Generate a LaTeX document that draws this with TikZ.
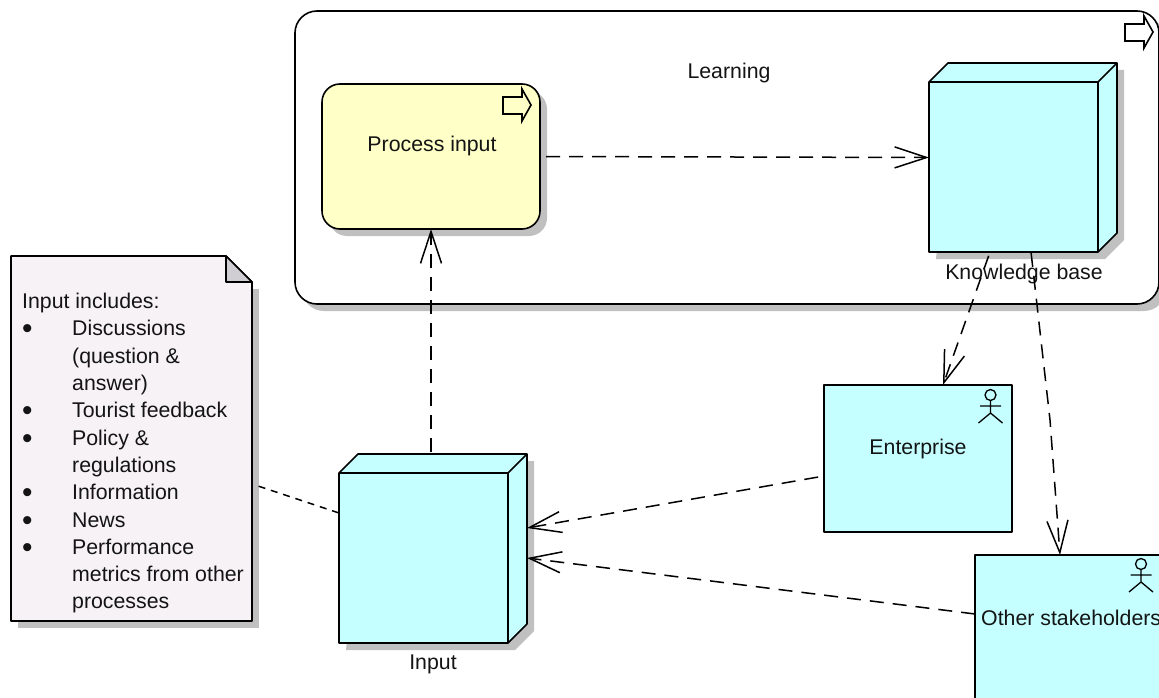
\documentclass[tikz,border=0pt]{standalone}
\usepackage{fontspec}
\setmainfont{Liberation Sans}
\usetikzlibrary{arrows.meta,shadows}
\definecolor{boxcyan}{RGB}{197,255,255}
\definecolor{boxyellow}{RGB}{255,255,200}
\definecolor{notefill}{RGB}{246,242,246}
\definecolor{foldfill}{RGB}{208,206,211}
\definecolor{shadowgray}{RGB}{192,192,192}
\definecolor{inktext}{RGB}{20,20,20}
\newcommand{\bulletmark}{\makebox[50pt][l]{\raisebox{-3pt}{\scalebox{1.4}{\textbullet}}}}
\tikzset{
  x=1pt,y=-1pt,
  outline/.style={draw=black,line width=1.6pt,line join=round},
  box7/.style={outline,inner sep=0pt,outer sep=0pt},
  ghost/.style={inner sep=0pt,outer sep=0pt},
  sh7/.style={drop shadow={shadow xshift=7pt,shadow yshift=-7pt,fill=shadowgray,opacity=1}},
  label7/.style={text=inktext,inner sep=0pt,font=\fontsize{21.3}{25}\selectfont},
  flow/.style={line width=1.5pt,dash pattern=on 14pt off 9pt,-{Straight Barb[length=32pt,width=21pt,line width=1.5pt]}},
  dep/.style={line width=1.5pt,dash pattern=on 7pt off 5.9pt},
  processicon/.pic={
    \draw[line width=1.6pt,line join=miter,fill=none] (0,8)--(19,8)--(19,0)--(28,16)--(19,32)--(19,25)--(0,25)--cycle;
  },
  actoricon/.pic={
    \draw[line width=1.3pt] (0,0) circle[radius=5.5];
    \draw[line width=1.3pt] (0,5.5)--(0,18) (-10.5,11)--(10.5,11) (-12,28)--(0,18)--(12,28);
  }
}
% name, left x, top y of front face
\newcommand{\cuboid}[3]{%
  \fill[shadowgray] (#2+26,#3-12)--(#2+195,#3-12)--(#2+195,#3+158)--(#2+176,#3+177)--(#2+7,#3+177)--cycle;
  \draw[outline,fill=boxcyan] (#2,#3) -- (#2+19,#3-19) -- (#2+188,#3-19) -- (#2+188,#3+151) -- (#2+169,#3+170) -- (#2,#3+170) -- cycle;
  \draw[outline] (#2,#3) -- (#2+169,#3) -- (#2+188,#3-19) (#2+169,#3) -- (#2+169,#3+170);
  \node[ghost,minimum width=188pt,minimum height=189pt,anchor=north west] (#1) at (#2,#3-19) {};
}
\begin{document}
\begin{tikzpicture}
\clip (0,0) rectangle (1159,698);
\fill[white] (0,0) rectangle (1159,698);

% Learning
\node[box7,sh7,fill=white,rounded corners=22pt,minimum width=864pt,minimum height=293pt,anchor=north west] (learn) at (295,11) {};
\pic at (1125,16) {processicon};
\node[label7] (learntxt) at (729,73) {Learning};

% Process input
\node[box7,sh7,fill=boxyellow,rounded corners=18pt,minimum width=218pt,minimum height=145pt,anchor=north west] (proc) at (322,84) {};
\pic at (503,89) {processicon};
\node[label7] (proctxt) at (432,146) {Process input};

% Knowledge base
\cuboid{kb}{929}{82}
\node[label7] (kbtxt) at (1024,274) {Knowledge base};

% Input
\cuboid{inp}{339}{473}
\node[label7] (inptxt) at (433,664) {Input};

% Enterprise
\node[box7,fill=boxcyan,minimum width=188pt,minimum height=147pt,anchor=north west] (ent) at (824,385) {};
\pic at (990.5,395) {actoricon};
\node[label7] (enttxt) at (918,449) {Enterprise};

% Other stakeholders
\node[box7,fill=boxcyan,minimum width=188pt,minimum height=147pt,anchor=north west] (oth) at (975,555) {};
\pic at (1141,564) {actoricon};
\node[label7,anchor=west] (othtxt) at (981,618) {Other stakeholders};

% Note
\fill[shadowgray] (18,289) rectangle (259,628);
\draw[outline,fill=notefill] (11,256) -- (226,256) -- (252,282) -- (252,621) -- (11,621) -- cycle;
\draw[outline,fill=foldfill] (226,256) -- (226,282) -- (252,282) -- cycle;
\node[label7,anchor=north west,align=left,font=\fontsize{21.3}{27.3}\selectfont] (note) at (22,293) {%
Input includes:\\
\bulletmark Discussions\\
\hspace{50pt}(question \&\\
\hspace{50pt}answer)\\
\bulletmark Tourist feedback\\
\bulletmark Policy \&\\
\hspace{50pt}regulations\\
\bulletmark Information\\
\bulletmark News\\
\bulletmark Performance\\
\hspace{50pt}metrics from other\\
\hspace{50pt}processes};

% Connector ends
\coordinate (noteout) at (252,484);
\coordinate (inpleft) at (339,513);
\coordinate (inpA) at (527,528);
\coordinate (inpB) at (527,558);
\coordinate (entout) at (824,476);
\coordinate (othout) at (975,614);
\coordinate (kbA) at (990,252);
\coordinate (kbB) at (1031,252);
\coordinate (entin) at (943,385);
\coordinate (othin) at (1060,555);
\coordinate (othbend) at (1050,420);

% Connectors
\draw[flow,shorten <=6pt] (proc.east) -- (kb.west);
\draw[flow,shorten <=2pt] (proc.south |- inp.north) -- (proc.south);
\draw[flow,shorten <=4pt] (kbA) -- (entin);
\draw[flow,shorten <=1pt] (kbB) -- (othbend) -- (othin);
\draw[flow,shorten <=6pt] (entout) -- (inpA);
\draw[flow] (othout) -- (inpB);
\draw[dep,shorten <=7pt] (noteout) -- (inpleft);
\end{tikzpicture}
\end{document}
